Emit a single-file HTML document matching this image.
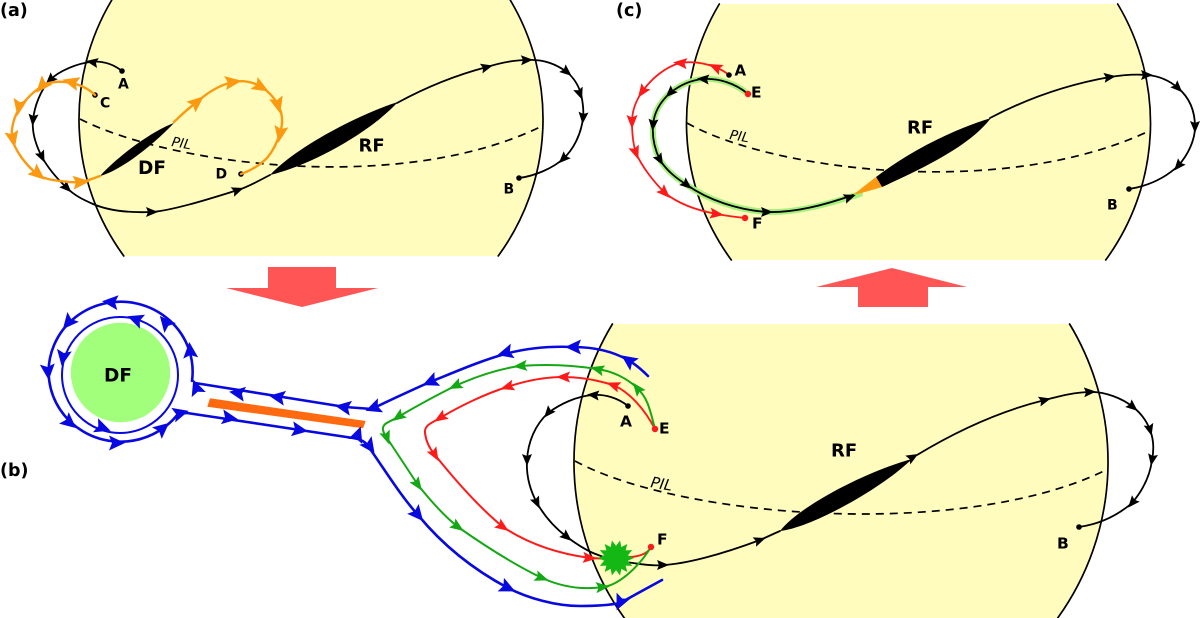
<!DOCTYPE html>
<html><head><meta charset="utf-8"><style>
html,body{margin:0;padding:0;background:#fff;overflow:hidden;width:1200px;height:618px}
svg{display:block}
text{font-family:"DejaVu Sans","Liberation Sans",sans-serif;font-weight:bold;fill:#000}
.p{font-family:"DejaVu Sans","Liberation Sans",sans-serif;font-weight:normal;font-style:italic}
.l{fill:none;stroke-linecap:round;stroke-linejoin:round}
.d{fill:none;stroke:#000;stroke-width:1.7;stroke-dasharray:8 6}
</style></head><body>
<svg width="1200" height="618" viewBox="0 0 1200 618" xmlns="http://www.w3.org/2000/svg">
<defs>
<path id="k" d="M6 0L-6 -5L-4 0L-6 5Z"/>
<path id="o" d="M9 0L-8 -7L-5 0L-8 7Z"/>
<path id="b" d="M8 0L-8 -7.5L-5 0L-8 7.5Z"/>
<path id="r" d="M7 0L-7 -5.5L-4.5 0L-7 5.5Z"/>
<path id="sp" d="M-18 0L0 -8L18 0L0 8Z"/>
</defs>

<!-- suns -->
<path fill="#fffcbd" d="M111.8 0L510.2 0A232 232 0 0 1 498.2 256L123.8 256A232 232 0 0 1 111.8 0Z"/>
<path class="l" stroke="#000" stroke-width="1.7" d="M510.2 0A232 232 0 0 1 498.2 256M123.8 256A232 232 0 0 1 111.8 0"/>
<path fill="#fffcbd" d="M719.3 4L1117.7 4A232 232 0 0 1 1105.7 260L731.3 260A232 232 0 0 1 719.3 4Z"/>
<path class="l" stroke="#000" stroke-width="1.7" d="M1117.7 4A232 232 0 0 1 1105.7 260M731.3 260A232 232 0 0 1 719.3 4"/>
<path fill="#fffcbd" d="M612.4 324L1069.6 324A267 267 0 0 1 1057.7 618L624.3 618A267 267 0 0 1 612.4 324Z"/>
<path class="l" stroke="#000" stroke-width="1.7" d="M1069.6 324A267 267 0 0 1 1057.7 618M624.3 618A267 267 0 0 1 612.4 324"/>

<!-- big arrows -->
<polygon points="226,288 268,288 268,267 336,267 336,288 378,288 302,307" fill="#ff5555"/>
<polygon points="816,287 858,287 858,307 928,307 928,287 967,287 892,268" fill="#ff5555"/>

<!-- PILs -->
<path class="d" d="M80 119C170 165 400 195 540 127"/>
<path class="d" d="M687 123C770 170 1000 200 1147 132"/>
<path class="d" d="M575 461C680 518 960 540 1104 471"/>

<!-- PANEL A -->
<g class="l" stroke="#000" stroke-width="1.8">
<path d="M122 71C113 64 102 60.5 90 62C78 63.5 59.5 70.3 50 80C40.5 89.7 34.3 107 33 120C31.7 133 36.3 146 42 157C48 168 58.5 180 67 188C75 196 84 200 93 204C107 210 128 213 152 212C176 210 218 196 238 190C248 187 262 179 270 175"/>
<path d="M397 103C430 85 460 74 487 67C500 63 515 60 527 60C545 59 557 65 567 72C575 79 579 87 581 94C583 103 584 110 583 118C581 135 573 150 563 159C553 168 535 176 519 178"/>
</g>
<g fill="#000">
<use href="#k" transform="translate(92 62) rotate(190)"/>
<use href="#k" transform="translate(50 80) rotate(135)"/>
<use href="#k" transform="translate(33 120) rotate(95)"/>
<use href="#k" transform="translate(42 157) rotate(65)"/>
<use href="#k" transform="translate(67 188) rotate(45)"/>
<use href="#k" transform="translate(152 212) rotate(0)"/>
<use href="#k" transform="translate(238 190) rotate(-20)"/>
<use href="#k" transform="translate(487 67) rotate(-15)"/>
<use href="#k" transform="translate(527 60) rotate(-2)"/>
<use href="#k" transform="translate(567 72) rotate(40)"/>
<use href="#k" transform="translate(580 94) rotate(70)"/>
<use href="#k" transform="translate(583 118) rotate(95)"/>
<use href="#k" transform="translate(563 159) rotate(135)"/>
<path d="M100 176C120 171 152 146 174 123C152 131 118 156 100 176Z"/>
<path d="M270 175C305 167 365 137 398 102C362 113 297 146 270 175Z"/>
<circle cx="122" cy="71" r="2.8"/><circle cx="95" cy="95" r="2.8"/><circle cx="241" cy="174" r="2.8"/><circle cx="519" cy="178" r="2.8"/>
</g>
<g class="l" stroke="#fb9a10" stroke-width="2.4">
<path d="M95 95C88 88 80 85 72 83C62 81 50 81 42 86C33 92 26 99 20 107C14 117 11 127 12 137C14 150 26 165 38 175C45 179 52 180 60 181C68 182 74 183 80 182C88 181 94 178 100 176"/>
<path d="M174 122C182 114 189 108 197 102C208 92 220 85 233 82C243 80 252 82 260 86C268 91 274 97 278 105C283 114 283 124 280 133C277 143 273 151 267 158C260 165 250 171 241 174"/>
</g>
<g fill="#fb9a10">
<use href="#o" transform="translate(71 82) rotate(195)"/>
<use href="#o" transform="translate(42 86) rotate(130)"/>
<use href="#o" transform="translate(19 107) rotate(100)"/>
<use href="#o" transform="translate(13 139) rotate(78)"/>
<use href="#o" transform="translate(38 174) rotate(40)"/>
<use href="#o" transform="translate(81 182) rotate(-5)"/>
<use href="#o" transform="translate(197 102) rotate(-40)"/>
<use href="#o" transform="translate(233 82) rotate(-8)"/>
<use href="#o" transform="translate(261 87) rotate(30)"/>
<use href="#o" transform="translate(278 105) rotate(75)"/>
<use href="#o" transform="translate(280 134) rotate(100)"/>
</g>
<text x="0" y="16" font-size="17.5">(a)</text>
<text x="118" y="88.5" font-size="14">A</text>
<text x="100" y="107.5" font-size="14">C</text>
<text x="215.5" y="178.5" font-size="14">D</text>
<text x="503.5" y="193.5" font-size="14">B</text>
<text x="138" y="174" font-size="18.5">DF</text>
<text x="358.5" y="151.5" font-size="18">RF</text>
<text class="p" x="171" y="146" font-size="13.5" transform="rotate(10 171 146)">PIL</text>

<!-- PANEL C -->
<path class="l" stroke="#a6f07e" stroke-width="6" d="M748 94C735 83 718 78 703 79C692 80 680 85 670 93C660 102 654 113 653 125C652 138 655 150 660 160C667 171 676 178 687 185C708 200 738 210 767 212C795 213 825 205 860 194"/>
<path fill="#000" d="M876 177L882 187C930 165 970 145 991 118C952 130 912 150 876 177Z"/>
<path fill="#fb9a10" d="M853 195C862 188 868 183 876 177L882 187C872 190 862 193 853 195Z"/>
<g class="l" stroke="#000" stroke-width="1.8">
<path d="M748 94C735 83 718 78 703 79C692 80 680 85 670 93C660 102 654 113 653 125C652 138 655 150 660 160C667 171 676 178 687 185C708 200 738 210 767 212C795 213 825 205 853 195"/>
<path d="M990 118C1030 97 1070 84 1110 77C1122 75 1135 74 1147 75C1160 76 1170 81 1178 88C1190 98 1195 112 1195 127C1195 140 1188 155 1178 166C1165 178 1148 186 1129 189"/>
</g>
<path class="l" stroke="#ff1a1a" stroke-width="1.8" d="M729 75C724 71 720 69 715 67C704 63 692 61 680 63C665 67 651 79 642 92C635 102 632 112 632 122C632 133 633 144 636 153C642 167 654 182 665 193C680 205 700 211 717 214C727 216 736 217 745 218"/>
<g fill="#000">
<use href="#k" transform="translate(703 79) rotate(185)"/>
<use href="#k" transform="translate(670 93) rotate(135)"/>
<use href="#k" transform="translate(653 125) rotate(95)"/>
<use href="#k" transform="translate(660 160) rotate(60)"/>
<use href="#k" transform="translate(687 185) rotate(40)"/>
<use href="#k" transform="translate(767 212) rotate(0)"/>
<use href="#k" transform="translate(850 197) rotate(-20)"/>
<use href="#k" transform="translate(1110 77) rotate(-8)"/>
<use href="#k" transform="translate(1147 75) rotate(0)"/>
<use href="#k" transform="translate(1178 88) rotate(45)"/>
<use href="#k" transform="translate(1195 127) rotate(90)"/>
<use href="#k" transform="translate(1178 166) rotate(130)"/>
<circle cx="729" cy="75" r="2.8"/><circle cx="1129" cy="189" r="2.8"/>
</g>
<g fill="#ff1a1a">
<use href="#r" transform="translate(715 67) rotate(205)"/>
<use href="#r" transform="translate(680 63) rotate(185)"/>
<use href="#r" transform="translate(642 92) rotate(125)"/>
<use href="#r" transform="translate(632 122) rotate(90)"/>
<use href="#r" transform="translate(636 153) rotate(70)"/>
<use href="#r" transform="translate(665 193) rotate(45)"/>
<use href="#r" transform="translate(717 214) rotate(8)"/>
<circle cx="748" cy="94" r="3.2"/><circle cx="745" cy="218" r="3.2"/>
</g>
<text x="616" y="16" font-size="17.5">(c)</text>
<text x="734.5" y="75.5" font-size="15">A</text>
<text x="751" y="97.5" font-size="15.5">E</text>
<text x="752" y="228.5" font-size="15.5">F</text>
<text x="1107" y="209.5" font-size="14">B</text>
<text x="907" y="133.5" font-size="18">RF</text>
<text class="p" x="729" y="139" font-size="13.5" transform="rotate(10 729 139)">PIL</text>

<!-- PANEL B -->
<g class="l" stroke="#000" stroke-width="1.8">
<path d="M628 406C618 398 605 394 593 395C577 396 560 404 548 413C535 425 528 442 527 460C526 476 530 490 537 503C545 517 555 528 567 537C575 543 584 549 593 553C607 559 620 562 633 563C645 565 655 566 663 565C685 564 720 555 760 540C767 537 773 534 780 531"/>
<path d="M917 455C955 432 1000 411 1045 400C1060 396 1075 392 1092 392C1105 392 1122 398 1133 407C1142 414 1147 422 1150 430C1154 440 1154 450 1152 460C1150 476 1143 490 1132 503C1118 515 1100 524 1079 527"/>
</g>
<g fill="#000">
<path d="M780 531C810 528 880 490 912 459C870 470 800 505 780 531Z"/>
<use href="#k" transform="translate(593 395) rotate(185)"/>
<use href="#k" transform="translate(548 413) rotate(130)"/>
<use href="#k" transform="translate(527 460) rotate(90)"/>
<use href="#k" transform="translate(537 503) rotate(65)"/>
<use href="#k" transform="translate(567 537) rotate(40)"/>
<use href="#k" transform="translate(663 565) rotate(0)"/>
<use href="#k" transform="translate(760 540) rotate(-20)"/>
<use href="#k" transform="translate(913 457) rotate(-30)"/>
<use href="#k" transform="translate(1045 400) rotate(-15)"/>
<use href="#k" transform="translate(1090 392) rotate(-3)"/>
<use href="#k" transform="translate(1133 407) rotate(40)"/>
<use href="#k" transform="translate(1150 430) rotate(75)"/>
<use href="#k" transform="translate(1152 460) rotate(100)"/>
<use href="#k" transform="translate(1132 503) rotate(130)"/>
<circle cx="628" cy="406" r="2.8"/><circle cx="1079" cy="527" r="2.8"/>
</g>
<path class="l" stroke="#ff1a1a" stroke-width="2" d="M655 429C645 410 630 392 613 385C597 380 580 377 563 377C545 377 525 381 507 387C485 394 460 406 440 418C432 423 424 425 425 433C426 442 430 449 435 455C455 480 480 508 503 527C530 545 560 554 590 558L612 559M628 557C638 557 648 554 651 547"/>
<g fill="#ff1a1a">
<use href="#r" transform="translate(613 385) rotate(200)"/>
<use href="#r" transform="translate(563 377) rotate(180)"/>
<use href="#r" transform="translate(507 387) rotate(163)"/>
<use href="#r" transform="translate(440 418) rotate(147)"/>
<use href="#r" transform="translate(435 455) rotate(60)"/>
<use href="#r" transform="translate(503 527) rotate(35)"/>
<use href="#r" transform="translate(590 558) rotate(5)"/>
</g>
<path class="l" stroke="#14a814" stroke-width="2" d="M655 429C650 410 648 398 637 388C627 378 612 371 597 369C572 365 545 364 520 366C498 369 475 377 455 386C435 396 415 407 398 417C390 422 382 423 383 430C384 434 385 436 387 438C397 453 408 470 418 485C430 500 444 516 458 527C485 546 515 565 542 578C562 587 583 590 603 587C620 585 640 565 651 547"/>
<g fill="#14a814">
<use href="#r" transform="translate(637 388) rotate(232)"/>
<use href="#r" transform="translate(597 369) rotate(195)"/>
<use href="#r" transform="translate(520 366) rotate(175)"/>
<use href="#r" transform="translate(455 386) rotate(155)"/>
<use href="#r" transform="translate(398 417) rotate(145)"/>
<use href="#r" transform="translate(387 438) rotate(70)"/>
<use href="#r" transform="translate(418 485) rotate(55)"/>
<use href="#r" transform="translate(458 527) rotate(35)"/>
<use href="#r" transform="translate(542 578) rotate(20)"/>
<use href="#r" transform="translate(603 587) rotate(-5)"/>
</g>
<circle cx="655" cy="429" r="3.2" fill="#ff1a1a"/><circle cx="651" cy="547" r="3.2" fill="#ff1a1a"/>
<g fill="#14b814">
<circle cx="616" cy="558" r="11.5"/>
<use href="#sp" transform="translate(616 558) rotate(0)"/>
<use href="#sp" transform="translate(616 558) rotate(26)"/>
<use href="#sp" transform="translate(616 558) rotate(51)"/>
<use href="#sp" transform="translate(616 558) rotate(77)"/>
<use href="#sp" transform="translate(616 558) rotate(103)"/>
<use href="#sp" transform="translate(616 558) rotate(129)"/>
<use href="#sp" transform="translate(616 558) rotate(154)"/>
</g>

<!-- DF + bar -->
<circle cx="120.5" cy="372.5" r="49.7" fill="#a2ff7c"/>
<polygon points="210,398.3 365.7,421 363,428.3 207.3,406.7" fill="#ff6a10"/>
<g class="l" stroke="#0808e0" stroke-width="2.6">
<path d="M648 376C642 370 635 364 628 360C612 351 592 347 573 347C550 346 527 348 505 354C480 361 455 372 430 382C410 391 390 400 372 409L345 407L195 383"/>
<path d="M192 381A72 70 0 1 0 178 414L187 413L353 438C360 439 365 441 368 446C385 470 400 495 418 515C445 548 478 572 508 588C528 598 555 606 580 606C595 606 610 605 620 603L662 580"/>
<circle cx="120" cy="375" r="58" stroke-width="2"/>
</g>
<g fill="#0808e0">
<use href="#b" transform="translate(628 360) rotate(215)"/>
<use href="#b" transform="translate(573 347) rotate(180)"/>
<use href="#b" transform="translate(505 353) rotate(165)"/>
<use href="#b" transform="translate(430 382) rotate(157)"/>
<use href="#b" transform="translate(373 408) rotate(160)"/>
<use href="#b" transform="translate(343 407) rotate(189)"/>
<use href="#b" transform="translate(277 397) rotate(189)"/>
<use href="#b" transform="translate(237 393) rotate(189)"/>
<use href="#b" transform="translate(196 387) rotate(250)"/>
<use href="#b" transform="translate(190 350) rotate(265)"/>
<use href="#b" transform="translate(165 322) rotate(230)"/>
<use href="#b" transform="translate(110 302) rotate(185)"/>
<use href="#b" transform="translate(68 323) rotate(130)"/>
<use href="#b" transform="translate(48 372) rotate(85)"/>
<use href="#b" transform="translate(70 423) rotate(40)"/>
<use href="#b" transform="translate(117 443) rotate(0)"/>
<use href="#b" transform="translate(163 428) rotate(-40)"/>
<use href="#b" transform="translate(181 413) rotate(-15)"/>
<use href="#b" transform="translate(135 319) rotate(200)"/>
<use href="#b" transform="translate(63 358) rotate(100)"/>
<use href="#b" transform="translate(103 428) rotate(20)"/>
<use href="#b" transform="translate(230 418) rotate(9)"/>
<use href="#b" transform="translate(300 430) rotate(9)"/>
<use href="#b" transform="translate(358 434) rotate(-70)"/>
<use href="#b" transform="translate(370 447) rotate(55)"/>
<use href="#b" transform="translate(418 515) rotate(50)"/>
<use href="#b" transform="translate(508 588) rotate(25)"/>
<use href="#b" transform="translate(620 603) rotate(115)"/>
</g>
<text x="0" y="476" font-size="17.5">(b)</text>
<text x="104" y="381.5" font-size="18.5">DF</text>
<text x="620" y="426.5" font-size="15.5">A</text>
<text x="659" y="433.5" font-size="15.5">E</text>
<text x="657" y="544.5" font-size="15.5">F</text>
<text x="1057" y="548.5" font-size="15.5">B</text>
<text x="831" y="456.5" font-size="18">RF</text>
<text class="p" x="650" y="487" font-size="15" transform="rotate(10 650 487)">PIL</text>
</svg>
</body></html>
